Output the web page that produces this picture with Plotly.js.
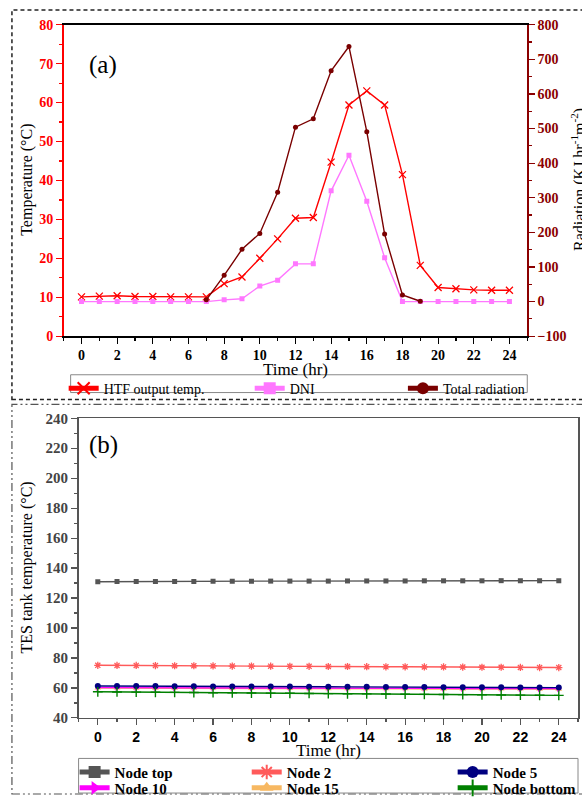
<!DOCTYPE html>
<html>
<head>
<meta charset="utf-8">
<script src="https://cdn.plot.ly/plotly-3.0.1.min.js"></script>
<style>html,body{margin:0;padding:0;background:#fff;}#chart{width:582px;height:805px;}</style>
</head>
<body>
<div id="chart"></div>
<script>
// ---------- Data ----------
var hours = [0,1,2,3,4,5,6,7,8,9,10,11,12,13,14,15,16,17,18,19,20,21,22,23,24];
var htfTemp = [10.1,10.3,10.4,10.2,10.2,10.1,10.1,10.1,13.5,15.2,20.0,25.0,30.3,30.5,44.7,59.4,63.0,59.4,41.5,18.2,12.5,12.2,11.9,11.8,11.8];
var dni = [0,0,0,0,0,0,0,0,5,8,45,62,109,109,320,423,290,127,0,0,0,0,0,0,0];
var totalHours = [7,8,9,10,11,12,13,14,15,16,17,18,19];
var totalRad = [5,76,151,197,316,504,528,667,737,491,195,19,1];

var nodeTop = [130.9,131.0,131.0,131.1,131.1,131.1,131.2,131.2,131.2,131.3,131.3,131.3,131.3,131.4,131.4,131.4,131.4,131.5,131.5,131.5,131.5,131.6,131.6,131.6,131.6];
var node2 = [75.1,75.0,75.0,74.9,74.8,74.8,74.7,74.6,74.6,74.5,74.4,74.4,74.3,74.3,74.2,74.1,74.1,74.0,74.0,73.9,73.8,73.8,73.7,73.6,73.6];
var node5 = [61.3,61.3,61.2,61.2,61.1,61.1,61.0,61.0,61.0,60.9,60.9,60.8,60.8,60.7,60.7,60.6,60.6,60.6,60.5,60.5,60.4,60.4,60.3,60.3,60.2];
var node10 = [60.2,60.2,60.1,60.1,60.1,60.0,60.0,60.0,59.9,59.9,59.9,59.9,59.8,59.8,59.8,59.7,59.7,59.7,59.7,59.6,59.6,59.6,59.5,59.5,59.5];
var node15 = [59.9,59.9,59.8,59.8,59.8,59.7,59.7,59.7,59.6,59.6,59.6,59.5,59.5,59.5,59.4,59.4,59.4,59.3,59.3,59.3,59.2,59.2,59.2,59.1,59.1];
var nodeBottom = [57.4,57.3,57.2,57.1,57.0,56.9,56.8,56.7,56.6,56.5,56.4,56.3,56.2,56.1,56.0,55.9,55.8,55.7,55.6,55.5,55.4,55.3,55.2,55.1,55.0];

var tempTicks = [0,10,20,30,40,50,60,70,80];
var radTicks = [-100,0,100,200,300,400,500,600,700,800];
var hourTicks = [0,2,4,6,8,10,12,14,16,18,20,22,24];
var tesTicks = [40,60,80,100,120,140,160,180,200,220,240];

// ---------- helpers ----------
var W = 582, H = 805;
function px(x){ return x / W; }
function py(y){ return 1 - y / H; }
var SERIF = 'Liberation Serif, Times New Roman, serif';
var SANS = 'Liberation Sans, Arial, sans-serif';
var DARKRED = '#8B0000';

var traces = [
  {x: hours, y: htfTemp, name: 'HTF output temp.', type: 'scatter', mode: 'lines+markers',
   xaxis: 'x', yaxis: 'y', legend: 'legend',
   line: {color: '#FF0000', width: 1.4},
   marker: {symbol: 'x-thin', size: 7, line: {color: '#FF0000', width: 1.3}, color: '#FF0000'}},
  {x: hours, y: dni, name: 'DNI', type: 'scatter', mode: 'lines+markers',
   xaxis: 'x', yaxis: 'y2', legend: 'legend2',
   line: {color: '#FF77FF', width: 1.4},
   marker: {symbol: 'square', size: 5, color: '#FF77FF'}},
  {x: totalHours, y: totalRad, name: 'Total radiation', type: 'scatter', mode: 'lines+markers',
   xaxis: 'x', yaxis: 'y2', legend: 'legend3',
   line: {color: '#7A0000', width: 1.4},
   marker: {symbol: 'circle', size: 5, color: '#7A0000'}},

  {x: hours, y: nodeTop, name: 'Node top', type: 'scatter', mode: 'lines+markers',
   xaxis: 'x2', yaxis: 'y3', legend: 'legend4',
   line: {color: '#555555', width: 1.4},
   marker: {symbol: 'square', size: 5, color: '#555555'}},
  {x: hours, y: node2, name: 'Node 2', type: 'scatter', mode: 'lines+markers',
   xaxis: 'x2', yaxis: 'y3', legend: 'legend5',
   line: {color: '#FF5A5A', width: 1.4},
   marker: {symbol: 'asterisk-open', size: 6, line: {color: '#FF5A5A', width: 1.3}, color: '#FF5A5A'}},
  {x: hours, y: node15, name: 'Node 15', type: 'scatter', mode: 'lines+markers',
   xaxis: 'x2', yaxis: 'y3', legend: 'legend8',
   line: {color: '#F7B862', width: 1.4},
   marker: {symbol: 'triangle-up', size: 6, color: '#F7B862'}},
  {x: hours, y: node10, name: 'Node 10', type: 'scatter', mode: 'lines+markers',
   xaxis: 'x2', yaxis: 'y3', legend: 'legend7',
   line: {color: '#FF00FF', width: 1.4},
   marker: {symbol: 'triangle-right', size: 6, color: '#FF00FF'}},
  {x: hours, y: node5, name: 'Node 5', type: 'scatter', mode: 'lines+markers',
   xaxis: 'x2', yaxis: 'y3', legend: 'legend6',
   line: {color: '#000080', width: 1.4},
   marker: {symbol: 'circle', size: 6, color: '#000080'}},
  {x: hours, y: nodeBottom, name: 'Node bottom', type: 'scatter', mode: 'lines+markers',
   xaxis: 'x2', yaxis: 'y3', legend: 'legend9',
   line: {color: '#008000', width: 1.4},
   marker: {symbol: 'cross-thin', size: 7, line: {color: '#008000', width: 1.4}, color: '#008000'}}
];

function legendAt(xText, yCenter, fontObj) {
  return {x: px(xText - 42), y: py(yCenter), xanchor: 'left', yanchor: 'middle',
          xref: 'paper', yref: 'paper', orientation: 'v',
          bgcolor: 'rgba(0,0,0,0)', borderwidth: 0, itemsizing: 'constant',
          font: fontObj};
}
var legAFont = {family: SERIF, size: 14, color: '#000'};
var legBFont = {family: SERIF, size: 15, color: '#000', weight: 'bold'};

function label(text, x, y, size, angle) {
  return {text: text, x: px(x), y: py(y), xref: 'paper', yref: 'paper', showarrow: false,
          xanchor: 'center', yanchor: 'middle', textangle: angle || 0,
          font: {family: SERIF, size: size, color: '#000'}};
}

var layout = {
  width: W, height: H,
  margin: {l: 0, r: 0, t: 0, b: 0},
  paper_bgcolor: '#fff', plot_bgcolor: '#fff',
  showlegend: true,
  font: {family: SERIF, color: '#000'},

  xaxis: {
    domain: [px(64), px(530)], anchor: 'y', range: [-1, 25],
    tickmode: 'array', tickvals: hourTicks, ticks: 'outside', ticklen: 6, tickwidth: 1.2, tickcolor: '#000',
    minor: {dtick: 1, tick0: 0, ticks: 'outside', ticklen: 3, tickcolor: '#000'},
    showline: true, linecolor: '#000', linewidth: 1.5, mirror: true,
    showgrid: false, zeroline: false,
    tickfont: {family: SERIF, size: 14, color: '#000', weight: 'bold'}
  },
  yaxis: {
    domain: [py(340), py(25)], anchor: 'x', range: [0, 80],
    tickmode: 'array', tickvals: tempTicks, ticks: 'outside', ticklen: 6, tickwidth: 1.2, tickcolor: '#FF0000',
    minor: {dtick: 5, tick0: 0, ticks: 'outside', ticklen: 3, tickcolor: '#FF0000'},
    showline: true, linecolor: '#FF0000', linewidth: 1.5,
    showgrid: false, zeroline: false,
    tickfont: {family: SERIF, size: 14, color: '#FF0000', weight: 'bold'}
  },
  yaxis2: {
    overlaying: 'y', side: 'right', anchor: 'x', range: [-100, 800],
    tickmode: 'array', tickvals: radTicks, ticks: 'outside', ticklen: 6, tickwidth: 1.2, tickcolor: DARKRED,
    minor: {dtick: 50, tick0: 0, ticks: 'outside', ticklen: 3, tickcolor: DARKRED},
    showline: true, linecolor: DARKRED, linewidth: 1.5,
    showgrid: false, zeroline: false,
    tickfont: {family: SERIF, size: 14, color: DARKRED, weight: 'bold'}
  },

  xaxis2: {
    domain: [px(79), px(581)], anchor: 'y3', range: [-1, 25],
    tickmode: 'array', tickvals: hourTicks, ticks: 'outside', ticklen: 6, tickwidth: 1.2, tickcolor: '#555',
    minor: {dtick: 1, tick0: 0, ticks: 'outside', ticklen: 3, tickcolor: '#555'},
    showline: true, linecolor: '#555', linewidth: 1.5, mirror: true,
    showgrid: false, zeroline: false,
    tickfont: {family: SANS, size: 14, color: '#000', weight: 'bold'}
  },
  yaxis3: {
    domain: [py(726), py(423)], anchor: 'x2', range: [40, 240],
    tickmode: 'array', tickvals: tesTicks, ticks: 'outside', ticklen: 6, tickwidth: 1.2, tickcolor: '#555',
    minor: {dtick: 10, tick0: 0, ticks: 'outside', ticklen: 3, tickcolor: '#555'},
    showline: true, linecolor: '#555', linewidth: 1.5, mirror: true,
    showgrid: false, zeroline: false,
    tickfont: {family: SERIF, size: 15, color: '#444', weight: 'bold'}
  },

  legend: legendAt(106, 393, legAFont),
  legend2: legendAt(293, 393, legAFont),
  legend3: legendAt(447, 393, legAFont),
  legend4: legendAt(117, 781, legBFont),
  legend5: legendAt(290, 781, legBFont),
  legend6: legendAt(497, 781, legBFont),
  legend7: legendAt(117, 797, legBFont),
  legend8: legendAt(290, 797, legBFont),
  legend9: legendAt(497, 797, legBFont),

  annotations: [
    label('(a)', 104, 66, 25),
    label('(b)', 104, 450, 25),
    label('Time (hr)', 297, 374, 17),
    label('Temperature (°C)', 27, 182, 16, -90),
    label('Radiation (KJ hr<sup>-1</sup>m<sup>-2</sup>)', 582, 182, 16, -90),
    label('Time (hr)', 330, 759, 17),
    label('TES tank temperature (°C)', 27, 574, 16, -90)
  ],

  shapes: [
    // outer frame of panel (a)
    {type: 'rect', xref: 'paper', yref: 'paper', x0: px(12), x1: px(600), y0: py(404), y1: py(10),
     line: {color: '#222', width: 1.5, dash: '4px,3px'}, layer: 'below'},
    // outer frame of panel (b)
    {type: 'rect', xref: 'paper', yref: 'paper', x0: px(12), x1: px(600), y0: py(803), y1: py(409),
     line: {color: '#555', width: 1.2, dash: '8px,3px,2px,3px,2px,3px'}, layer: 'below'},
    // legend boxes
    {type: 'rect', xref: 'paper', yref: 'paper', x0: px(71), x1: px(530), y0: py(397), y1: py(379),
     line: {color: '#888', width: 1}, layer: 'below'},
    {type: 'rect', xref: 'paper', yref: 'paper', x0: px(79), x1: px(581), y0: py(802), y1: py(767),
     line: {color: '#888', width: 1}, layer: 'below'}
  ]
};

Plotly.newPlot('chart', traces, layout, {displayModeBar: false, staticPlot: true});
</script>
</body>
</html>
